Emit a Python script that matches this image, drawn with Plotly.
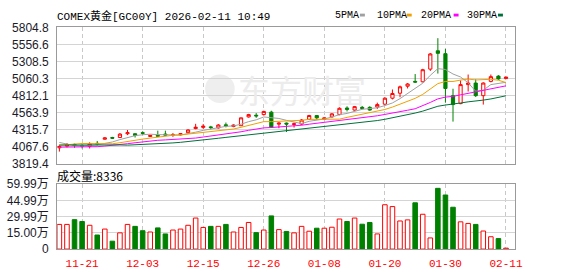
import plotly.graph_objects as go
import pandas as pd

# ---------------- data ----------------
dates = ["11-18", "11-19", "11-20", "11-21", "11-24", "11-25", "11-26", "11-27", "11-28", "12-01",
         "12-02", "12-03", "12-04", "12-05", "12-08", "12-09", "12-10", "12-11", "12-12", "12-15",
         "12-16", "12-17", "12-18", "12-19", "12-22", "12-23", "12-24", "12-26", "12-29", "12-30",
         "12-31", "01-02", "01-05", "01-06", "01-07", "01-08", "01-09", "01-12", "01-13", "01-14",
         "01-15", "01-16", "01-19", "01-20", "01-21", "01-22", "01-23", "01-26", "01-27", "01-28",
         "01-29", "01-30", "02-02", "02-03", "02-04", "02-05", "02-06", "02-09", "02-10", "02-11"]

opens = [4050, 4075, 4100, 4085, 4070, 4115, 4175, 4200, 4200, 4255,
         4255, 4270, 4215, 4230, 4250, 4235, 4240, 4270, 4330, 4348,
         4355, 4340, 4385, 4360, 4372, 4500, 4525, 4534, 4570, 4395,
         4410, 4390, 4396, 4465, 4520, 4465, 4500, 4534, 4630, 4600,
         4640, 4640, 4645, 4686, 4773, 4846, 4948, 5018, 5012, 5197,
         5464, 5422, 4810, 4694, 4971, 4994, 4810, 5018, 5095, 5059]
highs = [4095, 4120, 4110, 4100, 4130, 4150, 4205, 4210, 4265, 4310,
         4260, 4290, 4240, 4300, 4300, 4265, 4260, 4320, 4400, 4396,
         4370, 4395, 4418, 4390, 4490, 4545, 4556, 4590, 4590, 4420,
         4418, 4418, 4470, 4530, 4525, 4495, 4555, 4640, 4655, 4660,
         4660, 4655, 4708, 4785, 4900, 4957, 4994, 5125, 5201, 5432,
         5648, 5492, 4911, 5032, 5118, 5049, 5004, 5118, 5109, 5085]
lows = [3995, 4055, 4050, 4040, 4040, 4085, 4170, 4180, 4195, 4235,
        4200, 4240, 4210, 4215, 4225, 4210, 4230, 4260, 4320, 4327,
        4320, 4330, 4348, 4350, 4368, 4490, 4487, 4520, 4340, 4335,
        4280, 4345, 4380, 4455, 4460, 4455, 4490, 4525, 4580, 4590,
        4610, 4590, 4617, 4680, 4755, 4787, 4915, 4998, 5004, 5170,
        5132, 4708, 4432, 4686, 4870, 4791, 4680, 5004, 5040, 5055]
closes = [4070, 4095, 4085, 4075, 4110, 4105, 4195, 4190, 4250, 4270,
          4230, 4262, 4230, 4220, 4235, 4240, 4255, 4310, 4350, 4365,
          4345, 4382, 4372, 4382, 4487, 4534, 4515, 4580, 4350, 4410,
          4396, 4400, 4455, 4520, 4487, 4487, 4545, 4626, 4610, 4650,
          4625, 4600, 4680, 4773, 4842, 4939, 4980, 5008, 5188, 5418,
          5427, 4915, 4680, 4971, 4994, 4810, 4994, 5087, 5054, 5081]
# volume in lots
volumes = [228000, 228000, 272000, 255000, 220000, 130000, 185000, 73000, 150000, 228000,
           210000, 170000, 158000, 196000, 140000, 176000, 185000, 220000, 287000, 200000,
           210000, 210000, 228000, 158000, 200000, 246000, 152000, 176000, 307000, 180000,
           163000, 150000, 210000, 165000, 193000, 193000, 202000, 278000, 255000, 287000,
           230000, 246000, 140000, 410000, 393000, 260000, 270000, 428000, 322000, 103000,
           562000, 500000, 387000, 252000, 237000, 228000, 167000, 114000, 97000, 8336]
# closes of the 29 sessions before the window (needed for the moving averages)
warmup_closes = [4070, 3975, 4000, 4133, 4163, 4201, 4304, 4213, 4359, 4109,
                 4066, 4145, 4137, 4020, 3966, 4000, 4015, 3996, 4014, 3960,
                 3992, 3990, 4009, 4122, 4116, 4213, 4194, 4094, 4067]

price_ticks = [3819.4, 4067.6, 4315.7, 4563.9, 4812.1, 5060.3, 5308.5, 5556.6, 5804.8]
vol_max = 599900
vol_ticks = [0, 150000, 299900, 449900, 599900]
vol_tick_text = ["0", "15.00万", "29.99万", "44.99万", "59.99万"]
date_ticks = ["11-21", "12-03", "12-15", "12-26", "01-08", "01-20", "01-30", "02-11"]
ma_periods = [5, 10, 20, 30]
ma_names = ["5PMA", "10PMA", "20PMA", "30PMA"]
ma_colors = ["#a0a0a0", "#f0a000", "#ff00ff", "#00703a"]
title_text = "COMEX黄金[GC00Y] 2026-02-11 10:49"
watermark = "东方财富"

# ---------------- styling ----------------
W, H = 578, 276
RED, GREEN = "#ff0000", "#008000"
FRAME = "#9a9a9a"
GRID = "#d4d4d4"
MONO = "Liberation Mono, Noto Sans CJK SC, monospace"
SANS = "Liberation Sans, Arial, Noto Sans CJK SC, sans-serif"

def px_x(x):
    return x / W

def px_y(y):
    return 1 - y / H

idx = list(range(len(dates)))
all_closes = pd.Series(warmup_closes + closes)

fig = go.Figure()

fig.add_trace(go.Candlestick(
    x=idx, open=opens, high=highs, low=lows, close=closes,
    increasing=dict(line=dict(color=RED, width=1), fillcolor="#ffffff"),
    decreasing=dict(line=dict(color=GREEN, width=1), fillcolor=GREEN),
    whiskerwidth=0, showlegend=False, hoverinfo="skip",
    xaxis="x", yaxis="y"))

for p, name, col in zip(ma_periods, ma_names, ma_colors):
    ma = all_closes.rolling(p).mean().iloc[len(warmup_closes):].tolist()
    fig.add_trace(go.Scatter(x=idx, y=ma, mode="lines", name=name,
                             line=dict(color=col, width=1), showlegend=False,
                             hoverinfo="skip", xaxis="x", yaxis="y"))

up = [c >= o for o, c in zip(opens, closes)]
fig.add_trace(go.Bar(
    x=idx, y=volumes, width=0.6,
    marker=dict(color=["#ffffff" if u else GREEN for u in up],
                line=dict(color=[RED if u else GREEN for u in up], width=1)),
    showlegend=False, hoverinfo="skip", xaxis="x2", yaxis="y2"))

tick_pos = [dates.index(d) for d in date_ticks]
xr = [-0.29, 60.16]
xdom = [px_x(58), px_x(522)]

common_x = dict(range=xr, domain=xdom, tickvals=tick_pos, showgrid=True,
                gridcolor="#c8c8c8", griddash="4px,3px", gridwidth=1,
                showline=True, linecolor=FRAME, linewidth=1, mirror=True,
                zeroline=False, rangeslider=dict(visible=False), fixedrange=True)

fig.update_layout(
    width=W, height=H, margin=dict(l=0, r=0, t=0, b=0), autosize=False,
    paper_bgcolor="white", plot_bgcolor="white", boxgap=0.4,
    showlegend=False,
    xaxis=dict(**common_x, anchor="y", showticklabels=False, ticks=""),
    xaxis2=dict(**common_x, anchor="y2", showticklabels=True, ticktext=date_ticks,
                ticks="", ticklabelstandoff=4,
                tickfont=dict(family=MONO, size=11, color=RED)),
    yaxis=dict(domain=[px_y(165), px_y(21.5)], range=[price_ticks[0], price_ticks[-1]],
               tickvals=price_ticks, ticktext=[f"{v:.1f}" for v in price_ticks],
               showgrid=True, gridcolor=GRID, gridwidth=1, showline=True, linecolor=FRAME,
               mirror=True, zeroline=False, ticks="", ticklabelstandoff=5,
               tickfont=dict(family=SANS, size=12, color="#1a1a2a"), fixedrange=True),
    yaxis2=dict(domain=[px_y(255), px_y(186.7)], range=[0, vol_max],
                tickvals=vol_ticks, ticktext=vol_tick_text,
                showgrid=True, gridcolor=GRID, gridwidth=1, showline=True, linecolor=FRAME,
                mirror=True, zeroline=False, ticks="", ticklabelstandoff=5,
                tickfont=dict(family=SANS, size=12, color="#1a1a2a"), fixedrange=True),
)

# watermark (logo disc + text), drawn beneath the data
fig.add_shape(type="circle", xref="paper", yref="paper", layer="below",
              x0=px_x(208), x1=px_x(238), y0=px_y(101), y1=px_y(71),
              line=dict(width=0), fillcolor="#eeeeee")
fig.add_annotation(x=px_x(306), y=px_y(86), xref="paper", yref="paper", text=watermark,
                   showarrow=False, xanchor="center", yanchor="middle",
                   font=dict(family="Noto Sans CJK SC", size=32, color="#ececec"))

# title
fig.add_annotation(x=px_x(56), y=px_y(0), xref="paper", yref="paper", text=title_text,
                   showarrow=False, xanchor="left", yanchor="top",
                   font=dict(family=MONO, size=11, color="#000000"))

# MA legend
legend_text_x = [338, 380, 425, 472]
legend_box_x = [365, 412.5, 460, 505]
for lx, bx, name, col in zip(legend_text_x, legend_box_x, ma_names, ma_colors):
    fig.add_annotation(x=px_x(lx), y=px_y(8.5), xref="paper", yref="paper", text=name,
                       showarrow=False, xanchor="left", yanchor="middle",
                       font=dict(family=MONO, size=10, color="#000000"))
    fig.add_shape(type="rect", xref="paper", yref="paper",
                  x0=px_x(bx), x1=px_x(bx + 5), y0=px_y(10), y1=px_y(7),
                  line=dict(width=0), fillcolor=col)

# volume label
fig.add_annotation(x=px_x(56), y=px_y(177), xref="paper", yref="paper",
                   text=f"成交量:{volumes[-1]}", showarrow=False, xanchor="left", yanchor="middle",
                   font=dict(family="Noto Sans CJK SC, Liberation Sans", size=12, color="#000000"))

fig.write_html("out.html")
